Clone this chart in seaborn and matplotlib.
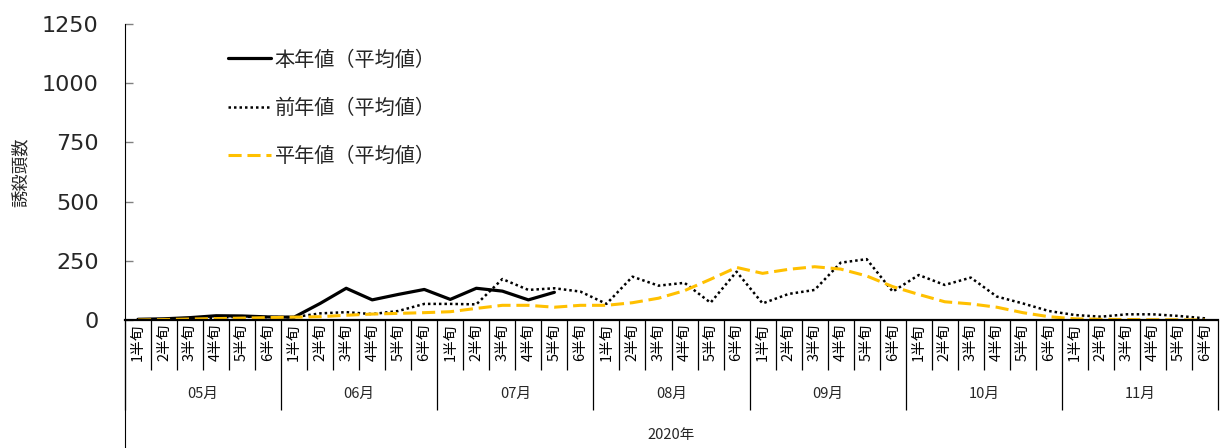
import matplotlib
matplotlib.use("Agg")
import matplotlib.pyplot as plt
import seaborn as sns

# データ
months = ["05月", "06月", "07月", "08月", "09月", "10月", "11月"]
periods = ["1半旬", "2半旬", "3半旬", "4半旬", "5半旬", "6半旬"]
year_label = "2020年"

this_year = [3, 5, 10, 18, 17, 13, 12, 70, 134, 85, 108, 129, 87, 134, 122, 85, 117]
last_year = [0, 2, 5, 10, 14, 12, 12, 28, 33, 25, 38, 68, 68, 66, 173, 127, 134, 120, 68, 183, 145,
             157, 73, 204, 70, 110, 127, 242, 257, 120, 190, 148, 179, 99, 70, 38, 21, 14, 24, 24, 17, 7]
normal_year = [0, 2, 4, 6, 8, 10, 12, 14, 20, 25, 28, 31, 35, 49, 62, 62, 54, 62, 62, 73, 92,
               124, 172, 222, 197, 214, 225, 215, 186, 141, 108, 77, 68, 54, 31, 14, 5, 3, 2, 1, 1, 0]

sns.set_style("white")
plt.rcParams["font.family"] = ["Noto Sans CJK JP", "DejaVu Sans"]

fig = plt.figure(figsize=(12.23, 4.48), dpi=100)
ax = fig.add_axes([125 / 1223, 1 - 320 / 448, 1093 / 1223, 296 / 448])

n = len(months) * len(periods)
pos = list(range(n))

sns.lineplot(x=pos[:len(this_year)], y=this_year, ax=ax, color="black", linewidth=2.3,
             label="本年値（平均値）")
sns.lineplot(x=pos, y=last_year, ax=ax, color="black", linewidth=1.8,
             linestyle=(0, (1, 1.2)), label="前年値（平均値）")
sns.lineplot(x=pos, y=normal_year, ax=ax, color="#FFC000", linewidth=2.2,
             linestyle=(0, (4.3, 1.9)), label="平年値（平均値）")

ax.set_xlim(-0.5, n - 0.5)
ax.set_ylim(0, 1250)
ax.set_yticks([0, 250, 500, 750, 1000, 1250])
ax.tick_params(axis="y", direction="in", length=6, width=1, color="#808080",
               labelsize=16, pad=19, left=True)
for lab in ax.get_yticklabels():
    lab.set_fontfamily("DejaVu Sans")

sns.despine(ax=ax)
ax.spines["left"].set_color("black")
ax.spines["left"].set_linewidth(0.8)
ax.spines["bottom"].set_color("black")
ax.spines["bottom"].set_linewidth(1.6)

# 多段の横軸
ax.set_xticks([i * 6 - 0.5 for i in range(len(months) + 1)])
ax.set_xticks([i - 0.5 for i in range(n + 1)], minor=True)
ax.set_xticklabels([])
ax.tick_params(axis="x", which="major", direction="out", length=65, width=0.9, color="black", bottom=True)
ax.tick_params(axis="x", which="minor", direction="out", length=36, width=0.9, color="black", bottom=True)

tr = ax.get_xaxis_transform()
for i in range(n):
    ax.text(i, -0.012, periods[i % 6], transform=tr, rotation=90, ha="center", va="top",
            fontsize=10.5, color="black")
for m, name in enumerate(months):
    ax.text(m * 6 + 2.5, -0.25, name, transform=tr, ha="center", va="center", fontsize=10.5)
ax.text((n - 1) / 2, -0.39, year_label, transform=tr, ha="center", va="center", fontsize=10.5)

# 左軸線を下まで延長
ax.plot([0, 0], [0, -128 / 296], transform=ax.transAxes, color="black", lw=0.8, clip_on=False)

ax.set_xlabel("")
ax.set_ylabel("誘殺頭数", fontsize=12.5)
ax.yaxis.set_label_coords(-0.087, 0.5)

leg = ax.legend(loc="upper left", bbox_to_anchor=(0.078, 0.975), frameon=False, fontsize=14.5,
                handlelength=2.1, handletextpad=0.2, labelspacing=1.35)

plt.savefig("out.png", dpi=100)
